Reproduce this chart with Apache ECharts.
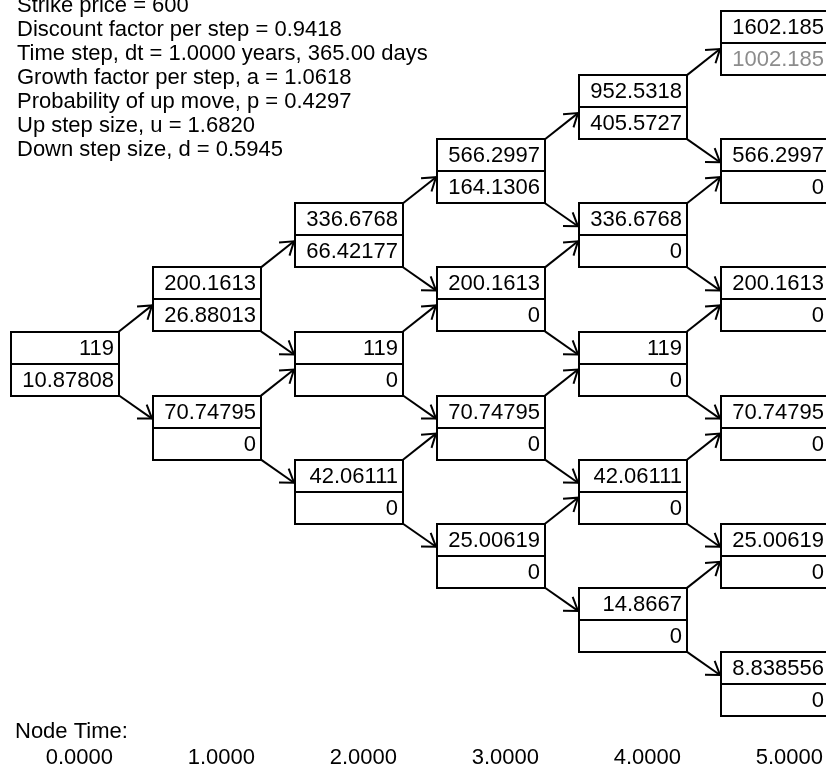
<!DOCTYPE html>
<html>
<head>
<meta charset="utf-8">
<script src="https://cdn.jsdelivr.net/npm/echarts/dist/echarts.min.js"></script>
<style>
  html, body { margin: 0; padding: 0; background: #fff; }
  #chart { width: 826px; height: 778px; }
</style>
</head>
<body>
<div id="chart"></div>
<script>
// ---- Data ----
const paramLines = [
  'Strike price = 600',
  'Discount factor per step = 0.9418',
  'Time step, dt = 1.0000 years, 365.00 days',
  'Growth factor per step, a = 1.0618',
  'Probability of up move, p = 0.4297',
  'Up step size, u = 1.6820',
  'Down step size, d = 0.5945'
];
const stockPrices = [
  [119],
  [200.1613, 70.74795],
  [336.6768, 119, 42.06111],
  [566.2997, 200.1613, 70.74795, 25.00619],
  [952.5318, 336.6768, 119, 42.06111, 14.8667],
  [1602.185, 566.2997, 200.1613, 70.74795, 25.00619, 8.838556]
];
const optionValues = [
  [10.87808],
  [26.88013, 0],
  [66.42177, 0, 0],
  [164.1306, 0, 0, 0],
  [405.5727, 0, 0, 0, 0],
  [1002.185, 0, 0, 0, 0, 0]
];
const nodeTimes = ['0.0000', '1.0000', '2.0000', '3.0000', '4.0000', '5.0000'];
const nodeTimeTitle = 'Node Time:';

// ---- Build series data from arrays ----
const boxData = [];
const arrowData = [];
stockPrices.forEach((col, i) => {
  col.forEach((s, j) => {
    const lvl = i - 2 * j;
    boxData.push({ value: [i, lvl], price: String(s), opt: String(optionValues[i][j]), col: i, row: j });
    if (i < stockPrices.length - 1) {
      arrowData.push([i, lvl, i + 1, lvl + 1, 1]);
      arrowData.push([i, lvl, i + 1, lvl - 1, -1]);
    }
  });
});

const FONT = '22px "Liberation Sans", Arial, sans-serif';
const BOX_W = 108, HALF_H = 32;

function renderBox(params, api) {
  const d = boxData[params.dataIndex];
  const p = api.coord([api.value(0), api.value(1)]);
  const x = Math.round(p[0]), ym = Math.round(p[1]);
  const gray = d.col === stockPrices.length - 1 && Number(d.opt) > 0;
  return {
    type: 'group',
    children: [
      { type: 'rect', shape: { x: x, y: ym - HALF_H, width: BOX_W, height: 2 * HALF_H },
        style: { fill: '#fff', stroke: '#000', lineWidth: 2 } },
      { type: 'line', shape: { x1: x, y1: ym, x2: x + BOX_W, y2: ym },
        style: { stroke: '#000', lineWidth: 2 } },
      { type: 'text', style: { text: d.price, x: x + BOX_W - 5, y: ym - HALF_H / 2 + 1,
        align: 'right', verticalAlign: 'middle', font: FONT, fill: '#000' } },
      { type: 'text', style: { text: d.opt, x: x + BOX_W - 5, y: ym + HALF_H / 2 + 1,
        align: 'right', verticalAlign: 'middle', font: FONT, fill: gray ? '#8c8c8c' : '#000' } }
    ]
  };
}

function renderArrow(params, api) {
  const dir = api.value(4);
  const a = api.coord([api.value(0), api.value(1)]);
  const b = api.coord([api.value(2), api.value(3)]);
  const x1 = a[0] + BOX_W, y1 = a[1] - dir * HALF_H;
  const x2 = b[0] - 1, y2 = b[1] + (dir > 0 ? 6 : -9);
  const th = Math.atan2(y2 - y1, x2 - x1) + Math.PI;
  const L = 15, sp = Math.PI * 0.19;
  const h1 = [x2 + L * Math.cos(th - sp), y2 + L * Math.sin(th - sp)];
  const h2 = [x2 + L * Math.cos(th + sp), y2 + L * Math.sin(th + sp)];
  return {
    type: 'group',
    children: [
      { type: 'line', shape: { x1: x1, y1: y1, x2: x2, y2: y2 }, style: { stroke: '#000', lineWidth: 2 } },
      { type: 'polyline', shape: { points: [h1, [x2, y2], h2] }, style: { stroke: '#000', lineWidth: 2, fill: null } }
    ]
  };
}

function renderTime(params, api) {
  const p = api.coord([api.value(0), 0]);
  return { type: 'text', style: { text: nodeTimes[params.dataIndex], x: p[0] + BOX_W - 6, y: 758,
    align: 'right', verticalAlign: 'middle', font: FONT, fill: '#000' } };
}

const chart = echarts.init(document.getElementById('chart'), null, { renderer: 'canvas' });
chart.setOption({
  backgroundColor: '#fff',
  animation: false,
  grid: { left: 11, right: 105, top: 43, bottom: 94 },
  xAxis: { type: 'value', min: 0, max: 5, show: false },
  yAxis: { type: 'value', min: -5, max: 5, show: false },
  graphic: paramLines.map((t, k) => ({
    type: 'text', left: 17, top: 18.5 + (k - 1) * 24,
    style: { text: t, font: FONT, fill: '#000' }
  })).concat([{ type: 'text', left: 15, top: 721, style: { text: nodeTimeTitle, font: FONT, fill: '#000' } }]),
  series: [
    { type: 'custom', renderItem: renderArrow, data: arrowData, silent: true, z: 1 },
    { type: 'custom', renderItem: renderBox, data: boxData.map(d => d.value), silent: true, z: 2 },
    { type: 'custom', renderItem: renderTime, data: nodeTimes.map((t, i) => [i]), silent: true, z: 2 }
  ]
});
</script>
</body>
</html>
